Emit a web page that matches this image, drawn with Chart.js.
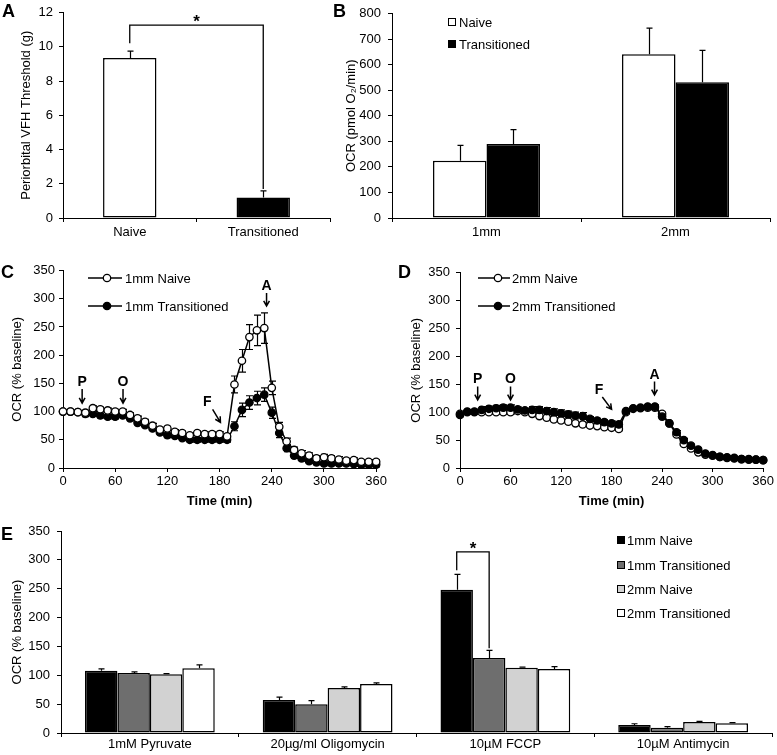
<!DOCTYPE html>
<html><head><meta charset="utf-8">
<script src="https://cdn.jsdelivr.net/npm/chart.js@4.4.0/dist/chart.umd.min.js"></script>
<style>
html,body{margin:0;padding:0;background:#fff;}
body{width:777px;height:755px;position:relative;overflow:hidden;}
canvas{position:absolute;}
</style></head><body>
<canvas id="cA" width="340" height="260" style="left:0px;top:0px;width:340px;height:260px"></canvas>
<canvas id="cB" width="447" height="260" style="left:330px;top:0px;width:447px;height:260px"></canvas>
<canvas id="cC" width="390" height="250" style="left:0px;top:260px;width:390px;height:250px"></canvas>
<canvas id="cD" width="387" height="250" style="left:390px;top:260px;width:387px;height:250px"></canvas>
<canvas id="cE" width="777" height="245" style="left:0px;top:510px;width:777px;height:245px"></canvas>
<script>
// ---------- DATA ----------
// Panel A
const aCats = ['Naive', 'Transitioned'];
const aVals = [9.35, 1.2];
const aErr = [0.4, 0.38];
// Panel B
const bCats = ['1mm', '2mm'];
const bNaive = [224, 641];
const bNaiveErr = [60, 102];
const bTrans = [289, 531];
const bTransErr = [57, 125];
// Panels C & D (time in min)
const times = [0,8.6,17.1,25.7,34.3,42.9,51.4,60,68.6,77.1,85.7,94.3,102.9,111.4,120,128.6,137.1,145.7,154.3,162.9,171.4,180,188.6,197.1,205.7,214.3,222.9,231.4,240,248.6,257.1,265.7,274.3,282.9,291.4,300,308.6,317.1,325.7,334.3,342.9,351.4,360];
const timeTicks = [0, 60, 120, 180, 240, 300, 360];
const cNaive = [100,100,99,98,106,104,102,100,100,94,88,82,75,68,70,64,62,58,62,60,60,60,56,148,190,232,244,248,142,73,47,32,26,22,17,19,17,15,13,14,11,11,11];
const cNaiveErr = [2,2,2,4,4,4,4,4,4,4,4,4,4,4,4,4,4,4,4,4,4,4,4,15,20,22,27,27,12,8,6,5,5,5,5,5,5,5,4,4,4,4,4];
const cTrans = [100,100,99,96,96,93,91,91,93,88,80,76,70,63,58,57,53,50,50,50,50,50,50,74,103,116,124,130,98,62,35,22,17,12,10,8,8,8,8,7,6,6,6];
const cTransErr = [2,2,2,5,4,4,4,4,4,4,4,4,4,4,4,4,4,4,4,4,4,4,4,8,12,12,12,12,10,8,6,5,5,4,4,4,4,4,4,4,4,4,4];
const dNaive = [97,100,100,100,100,100,100,100,102,100,97,93,90,87,85,83,80,78,76,75,73,72,70,100,106,107,108,108,97,80,60,43,35,28,24,22,20,18,17,16,15,15,14];
const dNaiveErr = [3,3,3,3,3,3,3,3,3,3,3,3,3,3,3,3,3,3,3,3,3,3,3,3,3,3,3,3,3,3,3,3,3,3,2,2,2,2,2,2,2,2,2];
const dTrans = [95,101,101,104,106,107,108,108,105,103,104,104,102,100,98,96,94,93,88,85,82,80,78,102,107,108,110,110,92,80,64,50,40,33,26,23,20,19,18,16,16,15,14];
const dTransErr = [3,3,3,6,5,5,5,5,4,4,6,6,6,6,6,6,6,6,4,4,4,4,4,3,3,3,3,3,3,3,3,3,3,3,2,2,2,2,2,2,2,2,2];
// Injection arrows: [label, labelT, labelV, fromT, fromV, toT, toV]
const cArrows = [['P',22,152,22,140,22,115],['O',69,152,69,140,69,115],['F',166,116,172,104,181,81],['A',234,322,234,310,234,287]];
const dArrows = [['P',21,159,21,146,21,122],['O',60,159,60,146,60,122],['F',165,139,169,127,180,105],['A',231,167,231,155,231,131]];
// Panel E
const eCats = ['1mM Pyruvate', '20µg/ml Oligomycin', '10µM FCCP', '10µM Antimycin'];
const e1N = [108, 57, 248, 14];
const e1NErr = [3, 5, 27, 2];
const e1T = [104, 50, 130, 9];
const e1TErr = [2, 6, 13, 2];
const e2N = [102, 78, 113, 19];
const e2NErr = [1, 2, 1, 1];
const e2T = [112, 85, 111, 17];
const e2TErr = [6, 2, 4, 1];
const eLabels = ['1mm Naive', '1mm Transitioned', '2mm Naive', '2mm Transitioned'];
const eColors = ['#000000', '#6e6e6e', '#d2d2d2', '#ffffff'];

// ---------- SETUP ----------
const FONT = "'Liberation Sans', Arial, sans-serif";
Chart.defaults.font.family = FONT;
Chart.defaults.font.size = 13;
Chart.defaults.color = '#000';
Chart.defaults.animation = false;
Chart.defaults.plugins.legend.display = false;
Chart.defaults.plugins.tooltip.enabled = false;

function mkY(min, max, step, title, width, titlePad, tickPad) {
  return {
    type: 'linear', min, max,
    ticks: { stepSize: step, padding: tickPad, color: '#000', font: { size: 13, lineHeight: 1 } },
    grid: { display: true, drawOnChartArea: false, drawTicks: true, tickLength: 4, tickColor: '#000', color: '#000' },
    border: { display: true, color: '#000', width: 1 },
    title: { display: true, text: title, color: '#000', font: { size: 13 }, padding: { top: titlePad, bottom: 0 } },
    afterFit(s) { s.width = width; }
  };
}
function mkXCat(height, tickPad) {
  return {
    type: 'category', offset: true,
    ticks: { padding: tickPad, color: '#000', font: { size: 13, lineHeight: 1 }, maxRotation: 0, autoSkip: false },
    grid: { display: true, offset: true, drawOnChartArea: false, tickLength: 4, tickColor: '#000', color: '#000' },
    border: { display: true, color: '#000', width: 1 },
    afterFit(s) { s.height = height; }
  };
}
function mkXTime() {
  return {
    type: 'linear', min: 0, max: 360,
    afterBuildTicks(s) { s.ticks = timeTicks.map(v => ({ value: v })); },
    ticks: { padding: 3, color: '#000', font: { size: 13, lineHeight: 1 }, maxRotation: 0 },
    grid: { display: true, drawOnChartArea: false, tickLength: 4, tickColor: '#000', color: '#000' },
    border: { display: true, color: '#000', width: 1 },
    title: { display: true, text: 'Time (min)', color: '#000', font: { size: 13, weight: 'bold' }, padding: { top: 0, bottom: 1 } },
    afterFit(s) { s.height = 42; }
  };
}
function errPlugin(errs, both, cap) {
  return {
    id: 'errbars',
    beforeDatasetsDraw(chart) {
      const ctx = chart.ctx, y = chart.scales.y;
      ctx.save(); ctx.strokeStyle = '#000'; ctx.lineWidth = 1.2;
      chart.data.datasets.forEach((ds, i) => {
        const e = errs[i]; if (!e) return;
        const meta = chart.getDatasetMeta(i);
        meta.data.forEach((el, j) => {
          const raw = ds.data[j]; const v = (typeof raw === 'number') ? raw : raw.y;
          const x = Math.round(el.x) + 0.5;
          const yt = y.getPixelForValue(v + e[j]);
          const yb = both ? y.getPixelForValue(v - e[j]) : y.getPixelForValue(v);
          ctx.beginPath();
          ctx.moveTo(x, yb); ctx.lineTo(x, yt);
          ctx.moveTo(x - cap, yt); ctx.lineTo(x + cap, yt);
          if (both) { ctx.moveTo(x - cap, yb); ctx.lineTo(x + cap, yb); }
          ctx.stroke();
        });
      });
      ctx.restore();
    }
  };
}
function letter(ctx, t, x, y) {
  ctx.save(); ctx.fillStyle = '#000'; ctx.font = 'bold 18px ' + FONT;
  ctx.textBaseline = 'alphabetic'; ctx.textAlign = 'left'; ctx.fillText(t, x, y); ctx.restore();
}
function bracket(ctx, x1, y1, x2, y2, yTop) {
  ctx.save(); ctx.strokeStyle = '#000'; ctx.lineWidth = 1.3;
  ctx.beginPath();
  ctx.moveTo(x1, y1); ctx.lineTo(x1, yTop); ctx.lineTo(x2, yTop); ctx.lineTo(x2, y2);
  ctx.stroke();
  ctx.fillStyle = '#000'; ctx.font = 'bold 17px ' + FONT; ctx.textAlign = 'center'; ctx.textBaseline = 'alphabetic';
  ctx.fillText('*', (x1 + x2) / 2, yTop + 2);
  ctx.restore();
}
function squareLegend(ctx, items, x, ys, tx) {
  ctx.save();
  ctx.font = '13px ' + FONT; ctx.textBaseline = 'middle'; ctx.textAlign = 'left';
  items.forEach((it, i) => {
    ctx.fillStyle = it[1]; ctx.fillRect(x, ys[i] - 4, 8, 8);
    ctx.strokeStyle = '#000'; ctx.lineWidth = 1; ctx.strokeRect(x + 0.5, ys[i] - 3.5, 7, 7);
    ctx.fillStyle = '#000'; ctx.fillText(it[0], tx, ys[i] + 1);
  });
  ctx.restore();
}
function lineLegend(ctx, items, x1, x2, cx, ys, tx) {
  ctx.save();
  ctx.font = '13px ' + FONT; ctx.textBaseline = 'middle'; ctx.textAlign = 'left';
  items.forEach((it, i) => {
    ctx.strokeStyle = '#000'; ctx.lineWidth = 1.5;
    ctx.beginPath(); ctx.moveTo(x1, ys[i]); ctx.lineTo(x2, ys[i]); ctx.stroke();
    ctx.beginPath(); ctx.arc(cx, ys[i], 3.7, 0, Math.PI * 2);
    ctx.fillStyle = it[1]; ctx.fill(); ctx.lineWidth = 1.3; ctx.stroke();
    ctx.fillStyle = '#000'; ctx.fillText(it[0], tx, ys[i] + 1);
  });
  ctx.restore();
}
function drawArrows(chart, arrows) {
  const ctx = chart.ctx, xs = chart.scales.x, ys = chart.scales.y;
  ctx.save(); ctx.strokeStyle = '#000'; ctx.fillStyle = '#000'; ctx.lineWidth = 1.5;
  ctx.font = 'bold 14px ' + FONT; ctx.textAlign = 'center'; ctx.textBaseline = 'middle';
  arrows.forEach(a => {
    ctx.fillText(a[0], xs.getPixelForValue(a[1]), ys.getPixelForValue(a[2]));
    const x1 = xs.getPixelForValue(a[3]), y1 = ys.getPixelForValue(a[4]);
    const x2 = xs.getPixelForValue(a[5]), y2 = ys.getPixelForValue(a[6]);
    const ang = Math.atan2(y2 - y1, x2 - x1), h = 6;
    ctx.beginPath(); ctx.moveTo(x1, y1); ctx.lineTo(x2, y2);
    ctx.moveTo(x2 - h * Math.cos(ang - 0.5), y2 - h * Math.sin(ang - 0.5));
    ctx.lineTo(x2, y2);
    ctx.lineTo(x2 - h * Math.cos(ang + 0.5), y2 - h * Math.sin(ang + 0.5));
    ctx.stroke();
  });
  ctx.restore();
}

// ---------- PANEL A ----------
new Chart(document.getElementById('cA'), {
  type: 'bar',
  data: { labels: aCats, datasets: [{ data: aVals, backgroundColor: ['#ffffff', '#000000'], borderColor: '#000', borderWidth: 1.5, borderSkipped: false, categoryPercentage: 0.4, barPercentage: 1.0 }] },
  options: {
    responsive: false, maintainAspectRatio: false,
    layout: { padding: { left: 0, right: 10, top: 7, bottom: 0 } },
    scales: { x: mkXCat(42, 4), y: mkY(0, 12, 2, 'Periorbital VFH Threshold (g)', 63, 19, 6) }
  },
  plugins: [errPlugin([aErr], false, 3), {
    id: 'ovA', afterDraw(chart) {
      const ctx = chart.ctx, y = chart.scales.y, m = chart.getDatasetMeta(0).data;
      bracket(ctx, m[0].x, y.getPixelForValue(10.2), m[1].x, y.getPixelForValue(1.7), y.getPixelForValue(11.26));
      letter(ctx, 'A', 2, 17);
    }
  }]
});

// ---------- PANEL B ----------
new Chart(document.getElementById('cB'), {
  type: 'bar',
  data: { labels: bCats, datasets: [
    { label: 'Naive', data: bNaive, backgroundColor: '#ffffff', borderColor: '#000', borderWidth: 1.5, borderSkipped: false, categoryPercentage: 0.566, barPercentage: 1.0 },
    { label: 'Transitioned', data: bTrans, backgroundColor: '#000000', borderColor: '#000', borderWidth: 1.5, borderSkipped: false, categoryPercentage: 0.566, barPercentage: 1.0 }
  ] },
  options: {
    responsive: false, maintainAspectRatio: false,
    layout: { padding: { left: 0, right: 7, top: 7, bottom: 0 } },
    scales: { x: mkXCat(42, 4), y: mkY(0, 800, 100, 'OCR (pmol O\u2082/min)', 62, 14, 7) }
  },
  plugins: [errPlugin([bNaiveErr, bTransErr], false, 3), {
    id: 'ovB', afterDraw(chart) {
      squareLegend(chart.ctx, [['Naive', '#ffffff'], ['Transitioned', '#000000']], 118, [22, 44], 129);
      letter(chart.ctx, 'B', 3, 17);
    }
  }]
});

// ---------- PANEL C ----------
function lineDs(label, vals, fill, order) {
  return { label, data: times.map((t, i) => ({ x: t, y: vals[i] })), borderColor: '#000', borderWidth: 1.5,
    pointRadius: 3.7, pointBorderWidth: 1.3, pointBackgroundColor: fill, pointBorderColor: '#000', tension: 0, order, clip: false };
}
new Chart(document.getElementById('cC'), {
  type: 'line',
  data: { datasets: [lineDs('1mm Naive', cNaive, '#ffffff', 0), lineDs('1mm Transitioned', cTrans, '#000000', 1)] },
  options: {
    responsive: false, maintainAspectRatio: false,
    layout: { padding: { left: 0, right: 13, top: 9, bottom: 0 } },
    scales: { x: mkXTime(), y: mkY(0, 350, 50, 'OCR (% baseline)', 63, 10, 4) }
  },
  plugins: [errPlugin([cNaiveErr, cTransErr], true, 3.5), {
    id: 'ovC', afterDraw(chart) {
      drawArrows(chart, cArrows);
      lineLegend(chart.ctx, [['1mm Naive', '#ffffff'], ['1mm Transitioned', '#000000']], 88, 122, 107, [18, 46], 125);
      letter(chart.ctx, 'C', 1, 18);
    }
  }]
});

// ---------- PANEL D ----------
new Chart(document.getElementById('cD'), {
  type: 'line',
  data: { datasets: [lineDs('2mm Naive', dNaive, '#ffffff', 1), lineDs('2mm Transitioned', dTrans, '#000000', 0)] },
  options: {
    responsive: false, maintainAspectRatio: false,
    layout: { padding: { left: 0, right: 10, top: 9, bottom: 0 } },
    scales: { x: mkXTime(), y: mkY(0, 350, 50, 'OCR (% baseline)', 70, 19, 6) }
  },
  plugins: [errPlugin([dNaiveErr, dTransErr], true, 3.5), {
    id: 'ovD', afterDraw(chart) {
      drawArrows(chart, dArrows);
      lineLegend(chart.ctx, [['2mm Naive', '#ffffff'], ['2mm Transitioned', '#000000']], 88, 120, 108, [18, 46], 122);
      letter(chart.ctx, 'D', 8, 18);
    }
  }]
});

// ---------- PANEL E ----------
const eSeries = [e1N, e1T, e2N, e2T];
new Chart(document.getElementById('cE'), {
  type: 'bar',
  data: { labels: eCats, datasets: eSeries.map((s, i) => ({ label: eLabels[i], data: s, backgroundColor: eColors[i], borderColor: '#000', borderWidth: 1.5, borderSkipped: false, categoryPercentage: 0.73, barPercentage: 1.0 })) },
  options: {
    responsive: false, maintainAspectRatio: false,
    layout: { padding: { left: 0, right: 5, top: 21, bottom: 0 } },
    scales: { x: mkXCat(22, 1), y: mkY(0, 350, 50, 'OCR (% baseline)', 61, 10, 7) }
  },
  plugins: [errPlugin([e1NErr, e1TErr, e2NErr, e2TErr], false, 3), {
    id: 'ovE', afterDraw(chart) {
      const ctx = chart.ctx, y = chart.scales.y;
      const m0 = chart.getDatasetMeta(0).data[2], m1 = chart.getDatasetMeta(1).data[2];
      bracket(ctx, m0.x, y.getPixelForValue(282), m1.x, y.getPixelForValue(147), y.getPixelForValue(314));
      squareLegend(ctx, eLabels.map((l, i) => [l, eColors[i]]), 617, [30, 55, 79, 103], 627);
      letter(ctx, 'E', 1, 30);
    }
  }]
});
</script>
</body></html>
